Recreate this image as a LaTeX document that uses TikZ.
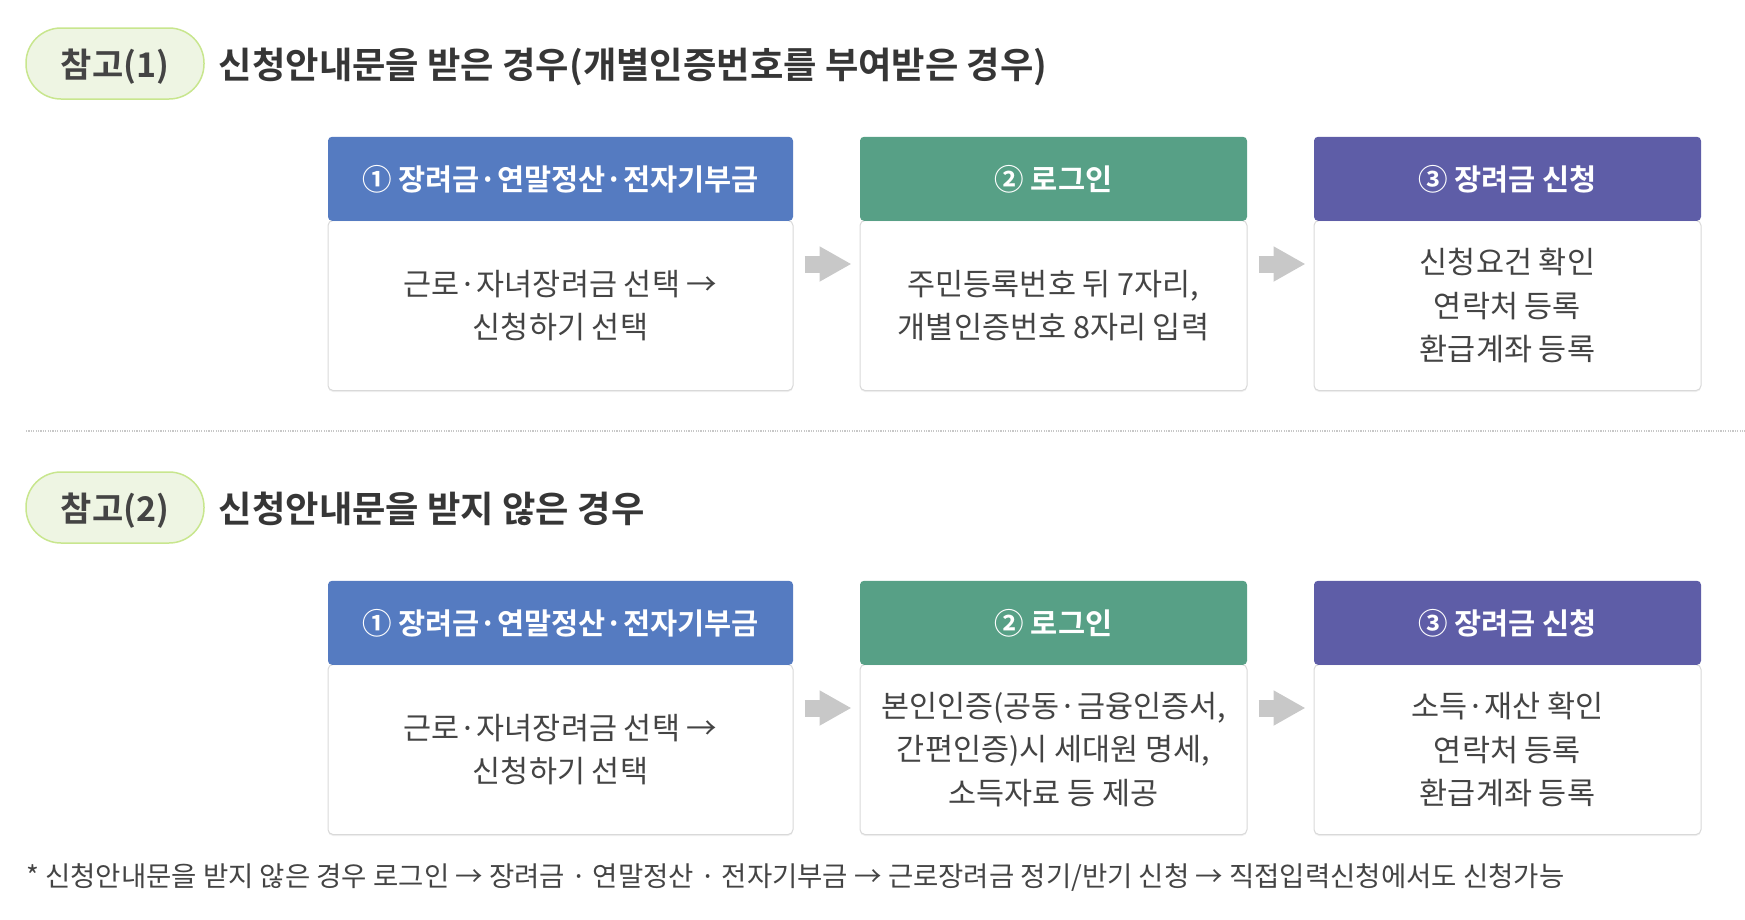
\documentclass[tikz,border=0pt]{standalone}
\usepackage{fontspec}
\setmainfont{Noto Sans CJK KR}[BoldFont={Noto Sans CJK KR Bold}]
\usetikzlibrary{positioning,arrows.meta,shadows}

\definecolor{stepblue}{HTML}{557BC1}
\definecolor{stepgreen}{HTML}{57A086}
\definecolor{steppurple}{HTML}{5E5DA7}
\definecolor{badgefill}{HTML}{EEF5E3}
\definecolor{badgeline}{HTML}{C8E68E}
\definecolor{cardline}{HTML}{D9D9D9}
\definecolor{txt}{HTML}{444444}
\definecolor{flowgray}{HTML}{C8C8C8}

\begin{document}
\begin{tikzpicture}[x=1pt,y=-1pt,node distance=66pt,
                    >={Triangle[length=32pt,width=33pt]}]

  \tikzstyle{badge}=[draw=badgeline,line width=1.5pt,fill=badgefill,rounded corners=35pt,
                     minimum width=178pt,minimum height=71pt,text=txt,text depth=0pt,
                     font=\bfseries\fontsize{34}{40}\selectfont]
  \tikzstyle{heading}=[anchor=west,inner sep=0pt,text=txt!80!black,text depth=0pt,
                       font=\bfseries\fontsize{36.3}{42}\selectfont]
  \tikzstyle{stepbody}=[draw=cardline,line width=1pt,fill=white,rounded corners=5pt,
                        minimum height=170pt,align=center,text=txt,
                        drop shadow={opacity=0.12,shadow xshift=0pt,shadow yshift=-1.5pt},
                        font=\fontsize{30.5}{43.5}\selectfont]
  \tikzstyle{stephead}=[rounded corners=4pt,minimum height=84pt,text=white,
                        font=\bfseries\fontsize{29.5}{34}\selectfont]
  \tikzstyle{wide}=[minimum width=465pt]
  \tikzstyle{narrow}=[minimum width=387pt]
  \tikzstyle{flowarrow}=[->,flowgray,line width=17pt]
  \tikzstyle{note}=[anchor=west,inner sep=0pt,text=txt,font=\fontsize{27.5}{32}\selectfont]

  \useasboundingbox (0,0) rectangle (1745,919);

  \node[badge] (ref1) at (115,63.5) {참고(1)};
  \node[heading] (ttl1) [right=14pt of ref1] {신청안내문을 받은 경우(개별인증번호를 부여받은 경우)};

  \node[stepbody,wide]   (app1) at (560.5,305.5) {근로·자녀장려금 선택 →\\신청하기 선택};
  \node[stepbody,narrow] (log1) [right=of app1] {주민등록번호 뒤 7자리,\\개별인증번호 8자리 입력};
  \node[stepbody,narrow] (req1) [right=of log1] {신청요건 확인\\연락처 등록\\환급계좌 등록};

  \node[stephead,wide,fill=stepblue]     (app1h) [above=-1pt of app1] {① 장려금·연말정산·전자기부금};
  \node[stephead,narrow,fill=stepgreen]  (log1h) [above=-1pt of log1] {② 로그인};
  \node[stephead,narrow,fill=steppurple] (req1h) [above=-1pt of req1] {③ 장려금 신청};

  \draw[flowarrow] ([shift={(11pt,41.5pt)}]app1.east) -- ([shift={(-8pt,41.5pt)}]log1.west);
  \draw[flowarrow] ([shift={(11pt,41.5pt)}]log1.east) -- ([shift={(-8pt,41.5pt)}]req1.west);

  \draw[flowgray,line width=1.2pt,dash pattern=on 1.2pt off 1.2pt] (26,431) -- (1745,431);

  \node[badge] (ref2) at (115,507.5) {참고(2)};
  \node[heading] (ttl2) [right=14pt of ref2] {신청안내문을 받지 않은 경우};

  \node[stepbody,wide]   (app2) at (560.5,749.5) {근로·자녀장려금 선택 →\\신청하기 선택};
  \node[stepbody,narrow] (log2) [right=of app2] {본인인증(공동·금융인증서,\\간편인증)시 세대원 명세,\\소득자료 등 제공};
  \node[stepbody,narrow] (req2) [right=of log2] {소득·재산 확인\\연락처 등록\\환급계좌 등록};

  \node[stephead,wide,fill=stepblue]     (app2h) [above=-1pt of app2] {① 장려금·연말정산·전자기부금};
  \node[stephead,narrow,fill=stepgreen]  (log2h) [above=-1pt of log2] {② 로그인};
  \node[stephead,narrow,fill=steppurple] (req2h) [above=-1pt of req2] {③ 장려금 신청};

  \draw[flowarrow] ([shift={(11pt,41.5pt)}]app2.east) -- ([shift={(-8pt,41.5pt)}]log2.west);
  \draw[flowarrow] ([shift={(11pt,41.5pt)}]log2.east) -- ([shift={(-8pt,41.5pt)}]req2.west);

  \node[note] (foot) at (26,878) {* 신청안내문을 받지 않은 경우 로그인 → 장려금 · 연말정산 · 전자기부금 → 근로장려금 정기/반기 신청 → 직접입력신청에서도 신청가능};
\end{tikzpicture}
\end{document}
